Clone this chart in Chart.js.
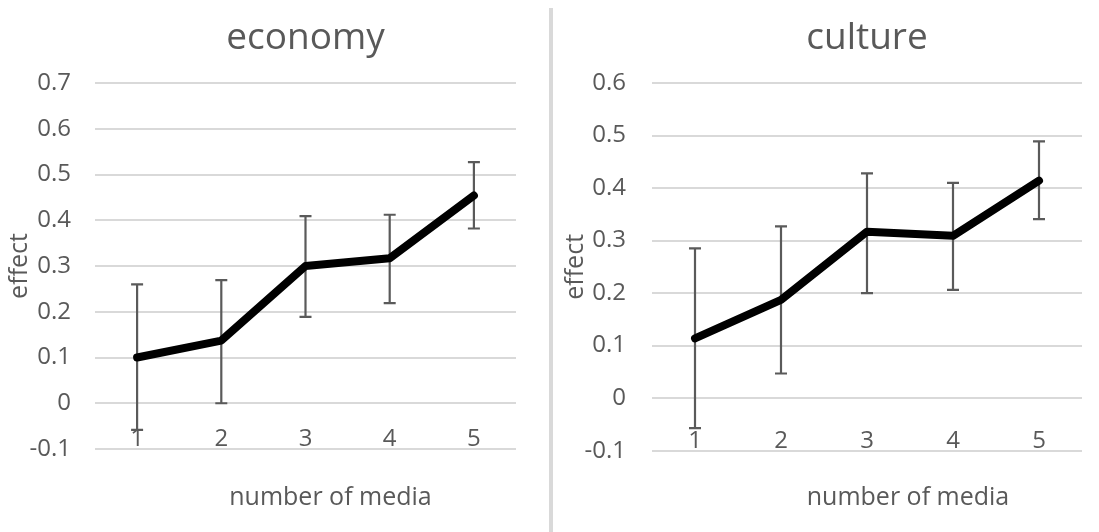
<!DOCTYPE html>
<html>
<head>
<meta charset="utf-8">
<script src="https://cdn.jsdelivr.net/npm/chart.js@4.4.1/dist/chart.umd.min.js"></script>
<style>
body { margin: 0; background: #fff; }
#wrap { position: relative; width: 1099px; height: 532px; overflow: hidden; }
.box { position: absolute; top: 0; height: 532px; }
#sep { position: absolute; left: 549px; top: 8px; width: 4px; height: 524px; background: #d9d9d9; }
</style>
</head>
<body>
<div id="wrap">
  <div class="box" style="left:0;width:540px"><canvas id="econ"></canvas></div>
  <div id="sep"></div>
  <div class="box" style="left:555px;width:544px"><canvas id="cult"></canvas></div>
</div>
<script>
// number of media (categories)
var media = ["1", "2", "3", "4", "5"];

// economy: mean effect and error bar ends
var econMean = [0.100, 0.137, 0.300, 0.317, 0.454];
var econLow  = [-0.058, 0.000, 0.189, 0.219, 0.382];
var econHigh = [0.260, 0.269, 0.409, 0.412, 0.527];

// culture: mean effect and error bar ends
var cultMean = [0.114, 0.187, 0.317, 0.309, 0.414];
var cultLow  = [-0.057, 0.047, 0.200, 0.206, 0.341];
var cultHigh = [0.285, 0.327, 0.428, 0.410, 0.489];

var grey = "#595959";
Chart.defaults.font.family = "'Open Sans'";
Chart.defaults.color = grey;

// draws the error bars from the y scale
var errorBars = {
  id: "errorBars",
  beforeDatasetsDraw: function(chart, args, opts) {
    var ctx = chart.ctx, xs = chart.scales.x, ys = chart.scales.y;
    ctx.save();
    ctx.strokeStyle = "#5a5a5a";
    ctx.lineWidth = 2.2;
    for (var i = 0; i < opts.low.length; i++) {
      var px = xs.getPixelForValue(i);
      var top = ys.getPixelForValue(opts.high[i]);
      var bot = ys.getPixelForValue(opts.low[i]);
      ctx.beginPath();
      ctx.moveTo(px, top); ctx.lineTo(px, bot);
      ctx.moveTo(px - 6, top); ctx.lineTo(px + 6, top);
      ctx.moveTo(px - 6, bot); ctx.lineTo(px + 6, bot);
      ctx.stroke();
    }
    ctx.restore();
  }
};

// x axis caption (excel puts it a bit right of centre)
var caption = {
  id: "caption",
  afterDraw: function(chart, args, opts) {
    var a = chart.chartArea, ctx = chart.ctx;
    ctx.save();
    ctx.font = "25px 'Open Sans'";
    ctx.fillStyle = grey;
    ctx.textAlign = "center";
    ctx.textBaseline = "alphabetic";
    ctx.fillText(opts.text, (a.left + a.right) / 2 + opts.shift, 505);
    ctx.restore();
  }
};

function build(id, name, mean, low, high, yMax, p) {
  return new Chart(document.getElementById(id), {
    type: "line",
    data: {
      labels: media,
      datasets: [{
        data: mean,
        borderColor: "#000",
        borderWidth: 8,
        pointRadius: 0,
        tension: 0,
        fill: false,
        borderCapStyle: "round",
        borderJoinStyle: "round"
      }]
    },
    options: {
      responsive: true,
      maintainAspectRatio: false,
      animation: false,
      layout: { padding: { left: 0, right: p.padRight, top: 0, bottom: 0 } },
      plugins: {
        legend: { display: false },
        tooltip: { enabled: false },
        title: {
          display: true,
          text: name,
          fullSize: false,
          color: grey,
          font: { size: 37, weight: "normal" },
          padding: { top: 16, bottom: 22.6 }
        },
        errorBars: { low: low, high: high },
        caption: { text: "number of media", shift: p.shift }
      },
      scales: {
        x: {
          offset: true,
          grid: { display: false, offset: true },
          border: { display: false },
          ticks: { color: grey, font: { size: 24 }, mirror: true, padding: -5 },
          afterFit: function(s) { s.height = p.xHeight; }
        },
        y: {
          min: -0.1,
          max: yMax,
          grid: { color: "#d9d9d9", lineWidth: 2, drawTicks: false },
          border: { display: false },
          ticks: {
            stepSize: 0.1,
            padding: p.tickPad,
            color: grey,
            font: { size: 24 },
            callback: function(v) {
              return Math.abs(v) < 1e-9 ? "0" : (Math.round(v * 10) / 10).toString();
            }
          },
          title: {
            display: true,
            text: "effect",
            color: grey,
            font: { size: 25 },
            padding: { top: p.titlePad, bottom: 0 }
          },
          afterFit: function(s) { s.width = p.yWidth; }
        }
      }
    },
    plugins: [errorBars, caption]
  });
}

build("econ", "economy", econMean, econLow, econHigh, 0.7,
  { padRight: 24, xHeight: 83, yWidth: 95, tickPad: 24, titlePad: 5, shift: 25 });
build("cult", "culture", cultMean, cultLow, cultHigh, 0.6,
  { padRight: 17, xHeight: 81.3, yWidth: 97, tickPad: 26, titlePad: 6, shift: 41 });
</script>
</body>
</html>
